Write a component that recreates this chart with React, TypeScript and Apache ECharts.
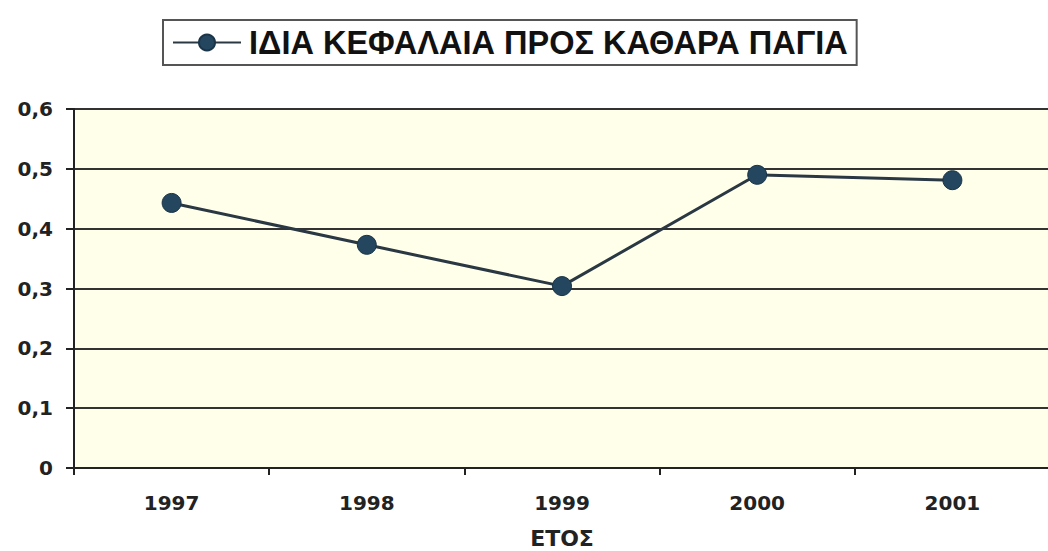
import React, { useEffect, useRef } from "react";
import * as echarts from "echarts";

const seriesName = "ΙΔΙΑ ΚΕΦΑΛΑΙΑ ΠΡΟΣ ΚΑΘΑΡΑ ΠΑΓΙΑ";
const years = ["1997", "1998", "1999", "2000", "2001"];
const ratios = [0.443, 0.373, 0.304, 0.49, 0.481];
const xAxisTitle = "ΕΤΟΣ";

export default function App() {
  const ref = useRef<HTMLDivElement>(null);
  useEffect(() => {
    if (!ref.current) return;
    const chart = echarts.init(ref.current, undefined, { renderer: "svg" });
    chart.setOption({
      animation: false,
      backgroundColor: "#ffffff",
      legend: {
        left: 163,
        top: 20,
        orient: "horizontal",
        borderColor: "#555555",
        borderWidth: 2,
        padding: [6, 9, 6, 9],
        itemWidth: 68,
        itemHeight: 20,
        textStyle: {
          fontFamily: "Liberation Sans",
          fontWeight: "bold",
          fontSize: 32.5,
          color: "#111111",
          padding: [0, 0, 0, 3],
        },
        data: [{ name: seriesName }],
      },
      grid: {
        left: 74,
        right: -2,
        top: 109,
        bottom: 83,
        show: true,
        backgroundColor: "#FFFFEA",
        borderWidth: 0,
        outerBoundsMode: "none",
        containLabel: false,
      },
      xAxis: {
        type: "category",
        data: years,
        boundaryGap: true,
        name: xAxisTitle,
        nameLocation: "middle",
        nameGap: 59,
        nameTextStyle: {
          fontFamily: "DejaVu Sans",
          fontWeight: "bold",
          fontSize: 22,
          lineHeight: 22,
          color: "#222222",
        },
        axisLine: { show: true, lineStyle: { color: "#222222", width: 2 } },
        axisTick: { show: true, length: 7, lineStyle: { color: "#222222", width: 2 } },
        axisLabel: {
          margin: 25,
          fontFamily: "DejaVu Sans",
          fontWeight: "bold",
          fontSize: 20,
          color: "#222222",
        },
        splitLine: { show: false },
      },
      yAxis: {
        type: "value",
        min: 0,
        max: 0.6,
        interval: 0.1,
        axisLine: { show: true, lineStyle: { color: "#222222", width: 2 } },
        axisTick: { show: true, length: 8, lineStyle: { color: "#222222", width: 2 } },
        axisLabel: {
          margin: 21,
          fontFamily: "DejaVu Sans",
          fontWeight: "bold",
          fontSize: 20,
          color: "#222222",
          formatter: (v: number) => (Math.round(v * 10) / 10).toString().replace(".", ","),
        },
        splitLine: { show: true, lineStyle: { color: "#333333", width: 2 } },
      },
      series: [
        {
          name: seriesName,
          type: "line",
          data: ratios,
          symbol: "circle",
          symbolSize: 19,
          lineStyle: { color: "#2a3844", width: 3 },
          itemStyle: { color: "#24465e", borderColor: "#1a3448", borderWidth: 1 },
        },
      ],
    });
    return () => chart.dispose();
  }, []);
  return <div ref={ref} style={{ width: 1048, height: 551, position: "absolute", left: 0, top: 0 }} />;
}
